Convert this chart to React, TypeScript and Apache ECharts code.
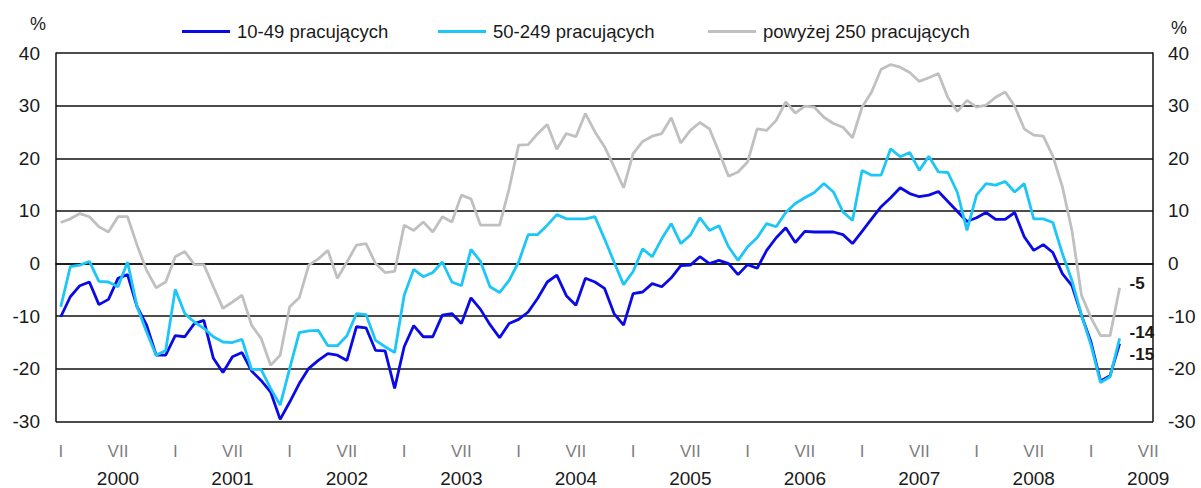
import React, { useEffect, useRef } from "react";
import * as echarts from "echarts";

const years = [2000, 2001, 2002, 2003, 2004, 2005, 2006, 2007, 2008, 2009];
const monthNumerals = ["I", "II", "III", "IV", "V", "VI", "VII", "VIII", "IX", "X", "XI", "XII"];
const monthCount = 115; // I 2000 – VII 2009

const seriesNames = ["10-49 pracujących", "50-249 pracujących", "powyżej 250 pracujących"];

const small = [
  -10.1, -6.3, -4.2, -3.5, -7.8, -6.8, -2.8, -2.1, -8.2, -11.7, -17.4, -17.4,
  -13.7, -13.9, -11.4, -10.8, -18.0, -20.7, -17.7, -16.9, -20.4, -22.2, -24.4, -29.6,
  -26.3, -22.8, -19.9, -18.4, -17.1, -17.4, -18.4, -12.0, -12.2, -16.5, -16.6, -23.7,
  -15.8, -11.8, -13.9, -13.9, -9.8, -9.5, -11.4, -6.5, -8.7, -11.6, -14.1, -11.4,
  -10.6, -9.2, -6.6, -3.5, -2.2, -6.1, -7.9, -2.8, -3.5, -4.7, -9.5, -11.7,
  -5.7, -5.4, -3.8, -4.4, -2.7, -0.4, -0.3, 1.3, 0, 0.6, 0, -2.1,
  -0.2, -0.9, 2.5, 4.9, 6.8, 4.0, 6.1, 6.0, 6.0, 6.0, 5.5, 3.8,
  6.1, 8.5, 10.8, 12.5, 14.4, 13.3, 12.7, 13.0, 13.7, 11.8, 9.9, 8.0,
  8.7, 9.7, 8.4, 8.4, 9.7, 5.1, 2.5, 3.6, 2.1, -1.9, -4.2, -9.8,
  -14.9, -22.3, -21.3, -15.2,
];

const medium = [
  -8.2, -0.6, -0.3, 0.4, -3.4, -3.5, -4.4, 0.3, -8.2, -13.0, -17.4, -16.5,
  -4.9, -9.5, -11.1, -12.3, -13.9, -14.9, -15.0, -14.4, -20.1, -20.1, -23.7, -26.9,
  -19.9, -13.1, -12.8, -12.7, -15.6, -15.6, -13.7, -9.5, -9.7, -14.6, -15.8, -16.9,
  -6.0, -1.1, -2.5, -1.7, 0.3, -3.5, -4.2, 2.7, 0.4, -4.4, -5.5, -3.2,
  0.3, 5.5, 5.5, 7.3, 9.3, 8.5, 8.5, 8.5, 8.9, 4.7, 0.3, -4.0,
  -1.5, 2.8, 1.3, 4.7, 7.6, 3.8, 5.4, 8.7, 6.3, 7.2, 3.2, 0.6,
  3.2, 4.9, 7.6, 7.0, 9.7, 11.4, 12.5, 13.5, 15.2, 13.6, 9.8, 8.2,
  17.7, 16.8, 16.8, 21.8, 20.3, 21.1, 17.7, 20.4, 17.4, 17.3, 13.5, 6.3,
  13.0, 15.2, 14.9, 15.6, 13.6, 15.2, 8.5, 8.5, 7.8, 1.9, -3.2, -9.8,
  -15.5, -22.6, -21.5, -14.2,
];

const large = [
  7.8, 8.5, 9.5, 8.9, 7.0, 6.0, 8.9, 8.9, 3.5, -1.3, -4.6, -3.5,
  1.3, 2.3, -0.2, -0.2, -4.4, -8.5, -7.3, -6.0, -11.7, -14.2, -19.3, -17.4,
  -8.2, -6.5, -0.3, 0.9, 2.5, -2.8, 0.3, 3.5, 3.8, 0.0, -1.7, -1.5,
  7.3, 6.3, 7.9, 6.0, 8.9, 7.9, 13.0, 12.3, 7.3, 7.3, 7.3, 14.2,
  22.5, 22.6, 24.7, 26.4, 21.7, 24.7, 24.1, 28.5, 25.0, 22.2, 18.4, 14.4,
  20.9, 23.2, 24.2, 24.7, 27.7, 22.9, 25.3, 26.8, 25.6, 21.2, 16.6, 17.4,
  19.3, 25.6, 25.3, 27.2, 30.7, 28.6, 29.9, 29.7, 27.8, 26.6, 25.9, 23.9,
  29.7, 32.6, 36.9, 37.8, 37.3, 36.3, 34.6, 35.3, 36.1, 31.5, 28.9, 31.0,
  29.7, 30.1, 31.6, 32.6, 29.9, 25.6, 24.4, 24.2, 20.4, 14.6, 6.3, -6.0,
  -10.3, -13.7, -13.7, -4.6,
];

const categories: string[] = [];
years.forEach((y) => monthNumerals.forEach((m) => categories.push(m + " " + y)));
const monthAxis = categories.slice(0, monthCount);

const FONT = "'Liberation Sans', Arial, sans-serif";

export default function App() {
  const ref = useRef<HTMLDivElement>(null);
  useEffect(() => {
    if (!ref.current) return;
    const chart = echarts.init(ref.current, undefined, { renderer: "svg" });
    const colors = ["#0a0ae6", "#1cc6f6", "#c0c0c0"];
    const dataSets = [small, medium, large];
    const zs = [8, 10, 6];
    const endOffsets = [
      [2, 11],
      [2, -6],
      [2, -4],
    ];
    const legendLefts = [177, 433, 703];
    chart.setOption({
      animation: false,
      textStyle: { fontFamily: FONT },
      grid: { left: 56, right: 48, top: 53, bottom: 65, containLabel: false },
      legend: seriesNames.map((n, i) => ({
        data: [n],
        left: legendLefts[i],
        top: 17,
        icon: "rect",
        itemWidth: 48,
        itemHeight: 3,
        textStyle: { fontSize: 18.5, color: "#1a1a1a", fontFamily: FONT, padding: [0, 0, 0, 2] },
      })),
      xAxis: {
        type: "category",
        data: monthAxis,
        boundaryGap: true,
        axisLine: { show: true, lineStyle: { color: "#111", width: 1.5 } },
        axisTick: { show: false },
        splitLine: { show: false },
        axisLabel: {
          interval: (index: number) => index % 6 === 0,
          margin: 18,
          formatter: (_v: string, index: number) => {
            if (index % 12 === 0) return "{m|I}";
            const yr = years[Math.floor(index / 12)];
            return "{m|VII}\n{y|" + yr + "}";
          },
          rich: {
            m: { color: "#7f7f7f", fontSize: 17, lineHeight: 24, fontFamily: FONT },
            y: { color: "#1a1a1a", fontSize: 19, lineHeight: 30, fontFamily: FONT },
          },
        },
      },
      yAxis: [
        {
          type: "value",
          min: -30,
          max: 40,
          interval: 10,
          position: "left",
          name: "%",
          nameLocation: "end",
          nameGap: 20,
          nameTextStyle: { fontSize: 18, color: "#1a1a1a", align: "right", padding: [0, 10, 0, 0], fontFamily: FONT },
          axisLine: { show: true, lineStyle: { color: "#111", width: 1.5 } },
          axisTick: { show: false },
          axisLabel: { fontSize: 19, color: "#1a1a1a", margin: 16, fontFamily: FONT },
          splitLine: { show: true, lineStyle: { color: "#111", width: 1.5 } },
        },
        {
          type: "value",
          min: -30,
          max: 40,
          interval: 10,
          position: "right",
          name: "%",
          nameLocation: "end",
          nameGap: 16,
          nameTextStyle: { fontSize: 18, color: "#1a1a1a", align: "left", padding: [0, 0, 0, 18], fontFamily: FONT },
          axisLine: { show: true, lineStyle: { color: "#111", width: 1.5 } },
          axisTick: { show: false },
          axisLabel: { fontSize: 19, color: "#1a1a1a", margin: 15, fontFamily: FONT },
          splitLine: { show: false },
        },
      ],
      series: dataSets.map((d, i) => ({
        name: seriesNames[i],
        type: "line",
        data: d,
        yAxisIndex: 0,
        symbol: "none",
        z: zs[i],
        lineStyle: { color: colors[i], width: 2.8 },
        itemStyle: { color: colors[i] },
        endLabel: {
          show: true,
          formatter: (p: any) => String(Math.round(p.value)),
          offset: endOffsets[i],
          fontSize: 17,
          fontWeight: "bold",
          color: "#1a1a1a",
          fontFamily: FONT,
        },
      })),
    });
    return () => chart.dispose();
  }, []);
  return (
    <div
      ref={ref}
      style={{ position: "fixed", left: 0, top: 0, width: 1201, height: 488, background: "#fff" }}
    />
  );
}
